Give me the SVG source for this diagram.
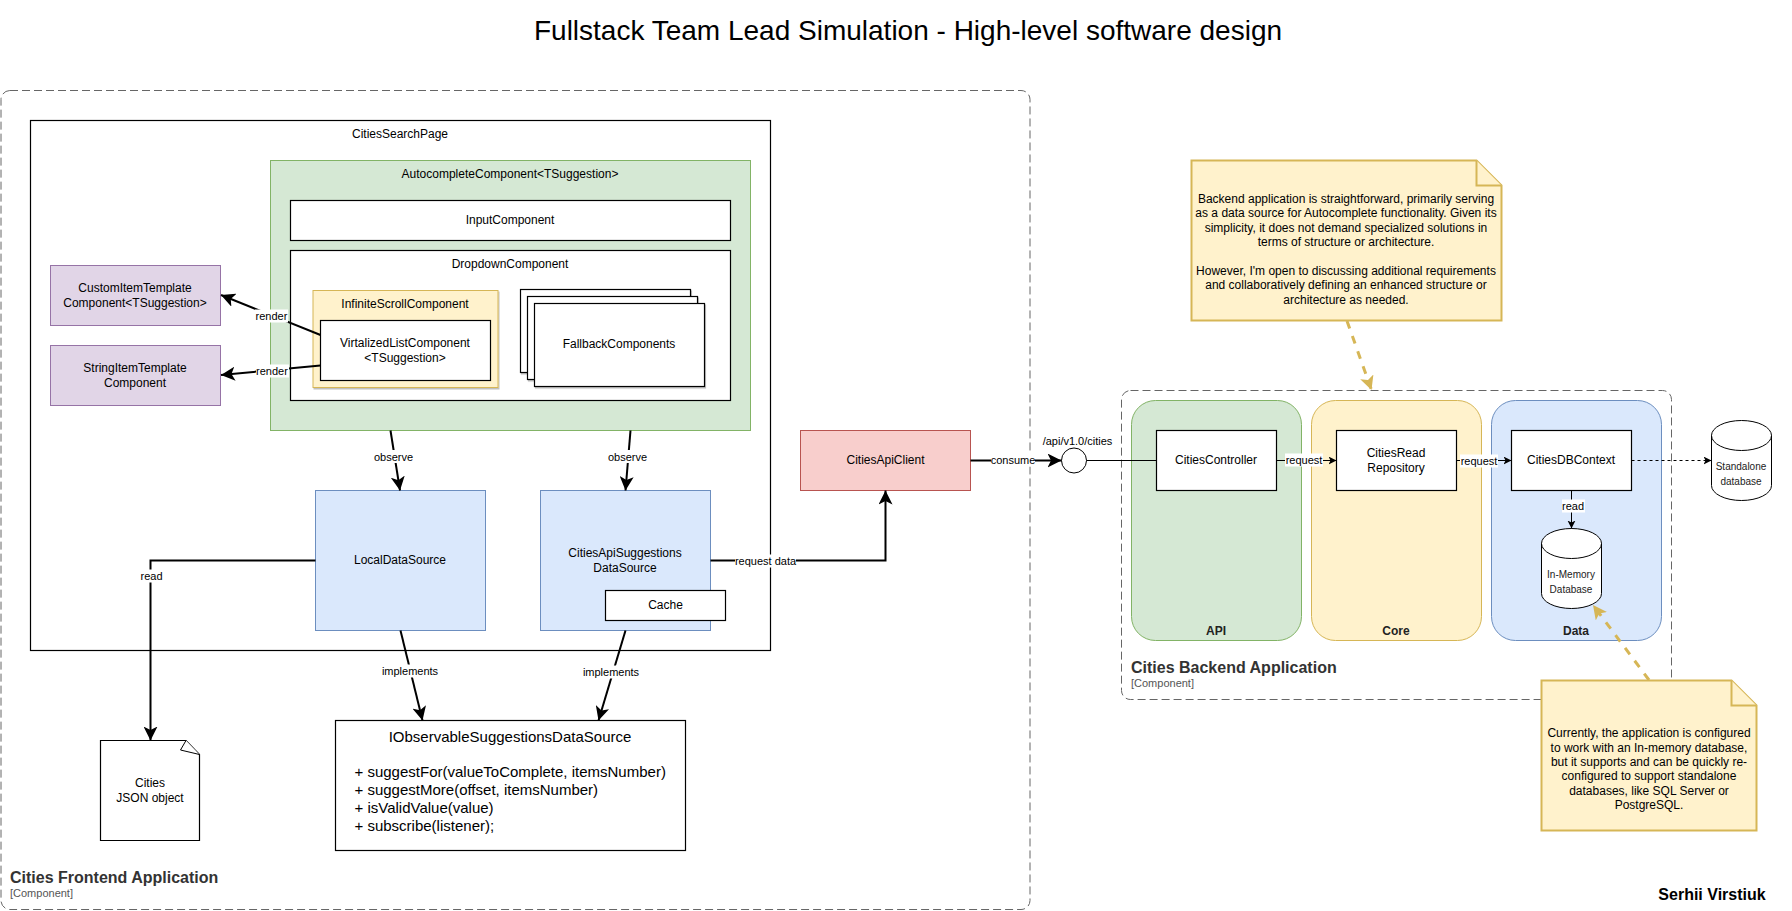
<svg xmlns="http://www.w3.org/2000/svg" width="1792" height="911" viewBox="0 0 1792 911">
<style>
text{font-family:"Liberation Sans",Arial,sans-serif;fill:#000;font-size:12px;text-anchor:middle}
.box{fill:#fff;stroke:#000;stroke-width:1.2}
.green{fill:#d5e8d4;stroke:#82b366}
.yellow{fill:#fff2cc;stroke:#d6b656}
.purple{fill:#e1d5e7;stroke:#9673a6}
.blue{fill:#dae8fc;stroke:#6c8ebf}
.red{fill:#f8cecc;stroke:#b85450}
.frame{fill:none;stroke:#666;stroke-width:1;stroke-dasharray:8 4}
.note{fill:#fff2cc;stroke:#d6b656;stroke-width:2}
.ln{font-size:11px}
.big{font-size:15px}
.db{font-size:10px;fill:#222}
.left{text-anchor:start}
.ttl{font-size:16px;font-weight:bold;fill:#333;text-anchor:start}
.sub{font-size:11px;fill:#555;text-anchor:start}
.lane{font-weight:bold;fill:#222}
.edge{fill:none;stroke:#000;stroke-width:2}
.thin{fill:none;stroke:#000;stroke-width:1}
.gold{fill:none;stroke:#d6b656;stroke-width:3;stroke-dasharray:8 8}
.lb{fill:#fff}
</style>
<defs>
<marker id="a2" markerUnits="userSpaceOnUse" markerWidth="16" markerHeight="14" refX="14" refY="7" orient="auto"><path d="M0,0 L14,7 L0,14 L3.5,7 Z" fill="#000"/></marker>
<marker id="a1" markerUnits="userSpaceOnUse" markerWidth="10" markerHeight="9" refX="8" refY="4" orient="auto"><path d="M0,0 L8,4 L0,8 L2,4 Z" fill="#000"/></marker>
<marker id="ag" markerUnits="userSpaceOnUse" markerWidth="16" markerHeight="14" refX="14" refY="7" orient="auto"><path d="M0,0 L14,7 L0,14 L3.5,7 Z" fill="#d6b656"/></marker>
<filter id="sh" x="-5%" y="-5%" width="112%" height="112%"><feDropShadow dx="1" dy="1.5" stdDeviation="0.7" flood-color="#000" flood-opacity="0.25"/></filter>
</defs>
<rect width="1792" height="911" fill="#fff"/>
<g id="title"><text x="908" y="40" style="font-size:28px">Fullstack Team Lead Simulation - High-level software design</text></g>
<g id="frontend-app"><rect class="frame" x="1" y="90.5" width="1029" height="819" rx="9"/>
<text class="ttl" x="10" y="883">Cities Frontend Application</text><text class="sub" x="10" y="897">[Component]</text></g>
<g id="cities-search-page"><rect class="box" x="30.5" y="120.5" width="740" height="530"/><text x="400" y="138">CitiesSearchPage</text></g>
<g id="autocomplete"><rect class="green" x="270.5" y="160.5" width="480" height="270"/><text x="510" y="178">AutocompleteComponent&lt;TSuggestion&gt;</text></g>
<g id="input-component"><rect class="box" x="290.5" y="200.5" width="440" height="40"/><text x="510" y="224">InputComponent</text></g>
<g id="dropdown-component"><rect class="box" x="290.5" y="250.5" width="440" height="150"/><text x="510" y="268">DropdownComponent</text></g>
<g id="infinite-scroll"><rect class="yellow" x="313" y="290.5" width="185" height="97" filter="url(#sh)"/><text x="405" y="308">InfiniteScrollComponent</text></g>
<g id="virtualized-list"><rect class="box" x="320.5" y="320.5" width="170" height="60"/><text x="405" y="347">VirtalizedListComponent</text><text x="405" y="362">&lt;TSuggestion&gt;</text></g>
<g id="fallback-components"><rect class="box" x="520.5" y="289.5" width="170" height="83" filter="url(#sh)"/><rect class="box" x="527.5" y="296.5" width="170" height="83" filter="url(#sh)"/><rect class="box" x="534.5" y="303.5" width="170" height="83" filter="url(#sh)"/><text x="619" y="348">FallbackComponents</text></g>
<g id="custom-item-template"><rect class="purple" x="50.5" y="265.5" width="170" height="60"/><text x="135" y="292">CustomItemTemplate</text><text x="135" y="307">Component&lt;TSuggestion&gt;</text></g>
<g id="string-item-template"><rect class="purple" x="50.5" y="345.5" width="170" height="60"/><text x="135" y="372">StringItemTemplate</text><text x="135" y="387">Component</text></g>
<g id="local-data-source"><rect class="blue" x="315.5" y="490.5" width="170" height="140"/><text x="400" y="564">LocalDataSource</text></g>
<g id="api-suggestions-data-source"><rect class="blue" x="540.5" y="490.5" width="170" height="140"/><text x="625" y="557">CitiesApiSuggestions</text><text x="625" y="572">DataSource</text></g>
<g id="cache"><rect class="box" x="605.5" y="590.5" width="120" height="30"/><text x="665.5" y="609">Cache</text></g>
<g id="observable-interface"><rect class="box" x="335.5" y="720.5" width="350" height="130"/><text class="big" x="510" y="741.5">IObservableSuggestionsDataSource</text>
<text class="big left" x="354.5" y="776.5">+ suggestFor(valueToComplete, itemsNumber)</text><text class="big left" x="354.5" y="794.5">+ suggestMore(offset, itemsNumber)</text><text class="big left" x="354.5" y="812.5">+ isValidValue(value)</text><text class="big left" x="354.5" y="830.5">+ subscribe(listener);</text></g>
<g id="cities-json"><path d="M100.5,740.5 H186 L199.5,754.5 V840.5 H100.5 Z" fill="#fff" stroke="#000" stroke-width="1.2"/><path d="M186,740.5 L180.5,750 L199.5,754.5" fill="#fff" stroke="#000" stroke-width="1"/><text x="150" y="787">Cities</text><text x="150" y="802">JSON object</text></g>
<g id="cities-api-client"><rect class="red" x="800.5" y="430.5" width="170" height="60"/><text x="885.5" y="464">CitiesApiClient</text></g>
<g id="backend-app"><rect class="frame" x="1121.5" y="390.5" width="550" height="309" rx="9"/><text class="ttl" x="1131" y="673">Cities Backend Application</text><text class="sub" x="1131" y="687">[Component]</text></g>
<g id="lane-api"><rect class="green" x="1131.5" y="400.5" width="170" height="240" rx="24"/><text class="lane" x="1216" y="635">API</text></g>
<g id="lane-core"><rect class="yellow" x="1311.5" y="400.5" width="170" height="240" rx="24"/><text class="lane" x="1396" y="635">Core</text></g>
<g id="lane-data"><rect class="blue" x="1491.5" y="400.5" width="170" height="240" rx="24"/><text class="lane" x="1576" y="635">Data</text></g>
<g id="api-endpoint"><circle cx="1074" cy="460.5" r="12.5" fill="#fff" stroke="#000" stroke-width="1"/><text class="ln" x="1077.5" y="445">/api/v1.0/cities</text></g>
<g id="cities-controller"><rect class="box" x="1156.5" y="430.5" width="120" height="60"/><text x="1216" y="464">CitiesController</text></g>
<g id="cities-read-repository"><rect class="box" x="1336.5" y="430.5" width="120" height="60"/><text x="1396" y="457">CitiesRead</text><text x="1396" y="472">Repository</text></g>
<g id="cities-db-context"><rect class="box" x="1511.5" y="430.5" width="120" height="60"/><text x="1571" y="464">CitiesDBContext</text></g>
<g id="in-memory-db"><path d="M1541.5,543.5 A30,15 0 0 1 1601.5,543.5 V593.5 A30,15 0 0 1 1541.5,593.5 Z" fill="#fff" stroke="#000" stroke-width="1"/><path d="M1541.5,543.5 A30,15 0 0 0 1601.5,543.5" fill="none" stroke="#000" stroke-width="1"/><text class="db" x="1571" y="578">In-Memory</text><text class="db" x="1571" y="593">Database</text></g>
<g id="standalone-db"><path d="M1711.5,435.5 A30,15 0 0 1 1771.5,435.5 V485.5 A30,15 0 0 1 1711.5,485.5 Z" fill="#fff" stroke="#000" stroke-width="1"/><path d="M1711.5,435.5 A30,15 0 0 0 1771.5,435.5" fill="none" stroke="#000" stroke-width="1"/><text class="db" x="1741" y="470">Standalone</text><text class="db" x="1741" y="485">database</text></g>
<g id="note-backend"><path class="note" d="M1191.5,160.5 H1476.5 L1501.5,185.5 V320.5 H1191.5 Z"/><path class="note" d="M1476.5,160.5 V185.5 H1501.5"/>
<text x="1346" y="203">Backend application is straightforward, primarily serving</text><text x="1346" y="217">as a data source for Autocomplete functionality. Given its</text><text x="1346" y="232">simplicity, it does not demand specialized solutions in</text><text x="1346" y="246">terms of structure or architecture.</text><text x="1346" y="275">However, I'm open to discussing additional requirements</text><text x="1346" y="289">and collaboratively defining an enhanced structure or</text><text x="1346" y="304">architecture as needed.</text></g>
<g id="note-database"><path class="note" d="M1541.5,680.5 H1731.5 L1756.5,705.5 V830.5 H1541.5 Z"/><path class="note" d="M1731.5,680.5 V705.5 H1756.5"/>
<text x="1649" y="737">Currently, the application is configured</text><text x="1649" y="751.5">to work with an In-memory database,</text><text x="1649" y="766">but it supports and can be quickly re-</text><text x="1649" y="780">configured to support standalone</text><text x="1649" y="795">databases, like SQL Server or</text><text x="1649" y="809">PostgreSQL.</text></g>
<g id="author"><text x="1712" y="900" style="font-size:16px;font-weight:bold">Serhii Virstiuk</text></g>
<g id="connectors">
<path class="edge" d="M320.5,335 L221,295" marker-end="url(#a2)"/>
<path class="edge" d="M320.5,365.5 L221,375" marker-end="url(#a2)"/>
<path class="edge" d="M390.5,430.5 L400,490.5" marker-end="url(#a2)"/>
<path class="edge" d="M630.5,430.5 L625.5,490.5" marker-end="url(#a2)"/>
<path class="edge" d="M315.5,560.5 H150.5 V740.5" marker-end="url(#a2)"/>
<path class="edge" d="M400.5,630.5 L422.5,720.5" marker-end="url(#a2)"/>
<path class="edge" d="M625.5,630.5 L598.5,720.5" marker-end="url(#a2)"/>
<path class="edge" d="M710.5,560.5 H885.5 V490.5" marker-end="url(#a2)"/>
<path class="edge" d="M970.5,460.5 H1061.5" marker-end="url(#a2)"/>
<path class="thin" d="M1086.5,460.5 H1156.5"/>
<path class="thin" d="M1276.5,460.5 H1336.5" marker-end="url(#a1)"/>
<path class="thin" d="M1456.5,460.5 H1511.5" marker-end="url(#a1)"/>
<path class="thin" d="M1631.5,460.5 H1711.5" stroke-dasharray="3 3" marker-end="url(#a1)"/>
<path class="thin" d="M1571.5,490.5 V528.5" marker-end="url(#a1)"/>
<path class="gold" d="M1347,321 L1371.5,390" marker-end="url(#ag)"/>
<path class="gold" d="M1649,680 L1593,605" marker-end="url(#ag)"/>
<rect class="lb" x="255" y="309.5" width="33" height="13"/><text class="ln" x="271.5" y="320">render</text>
<rect class="lb" x="256" y="364.5" width="33" height="13"/><text class="ln" x="272" y="375">render</text>
<rect class="lb" x="374" y="450" width="39" height="13"/><text class="ln" x="393.5" y="461">observe</text>
<rect class="lb" x="608" y="450" width="39" height="13"/><text class="ln" x="627.5" y="461">observe</text>
<rect class="lb" x="140" y="569.5" width="23" height="13"/><text class="ln" x="151.5" y="580">read</text>
<rect class="lb" x="382" y="664.5" width="56" height="13"/><text class="ln" x="410" y="675">implements</text>
<rect class="lb" x="583" y="665.5" width="56" height="13"/><text class="ln" x="611" y="676">implements</text>
<rect class="lb" x="735" y="554.5" width="61" height="13"/><text class="ln" x="765.5" y="565">request data</text>
<rect class="lb" x="991" y="453.5" width="44" height="13"/><text class="ln" x="1013" y="464">consume</text>
<rect class="lb" x="1285" y="453.5" width="38" height="13"/><text class="ln" x="1304" y="464">request</text>
<rect class="lb" x="1460" y="454.5" width="38" height="13"/><text class="ln" x="1479" y="465">request</text>
<rect class="lb" x="1562" y="499.5" width="23" height="13"/><text class="ln" x="1573" y="510">read</text>
</g>
</svg>
